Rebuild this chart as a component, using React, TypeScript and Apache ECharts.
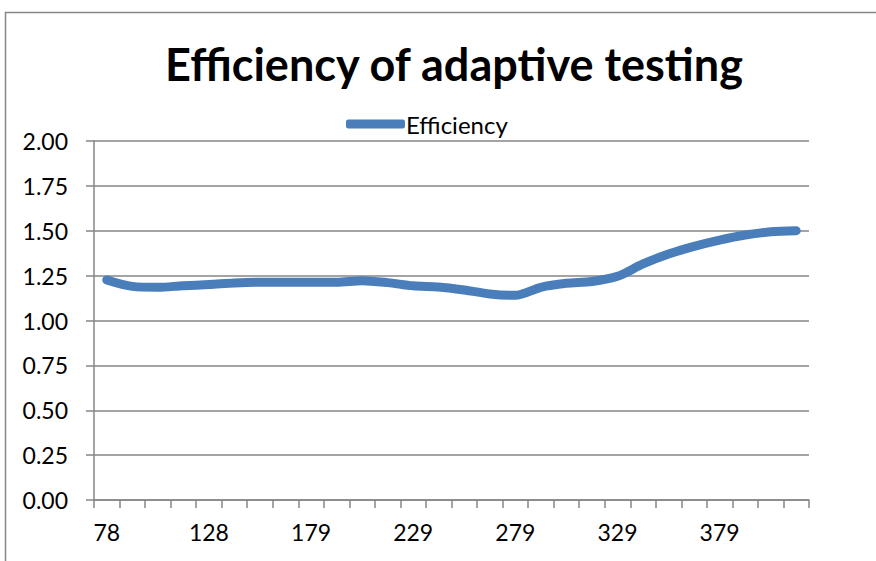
import React, { useEffect, useRef } from "react";
import * as echarts from "echarts";

const categories: string[] = [
  "78", "91", "103", "116", "128", "141", "154", "166", "179", "191",
  "204", "216", "229", "241", "254", "267", "279", "292", "304", "317",
  "329", "342", "354", "367", "379", "392", "404", "417",
];

const efficiency: number[] = [
  1.226, 1.19, 1.185, 1.194, 1.2, 1.209, 1.213, 1.213, 1.213, 1.213,
  1.222, 1.211, 1.193, 1.187, 1.17, 1.148, 1.14, 1.185, 1.207, 1.217,
  1.246, 1.315, 1.37, 1.413, 1.448, 1.476, 1.494, 1.5,
];

const FONT = "Lato, 'Noto Sans', sans-serif";
const GREY = "#868686";

export default function App() {
  const ref = useRef<HTMLDivElement>(null);
  useEffect(() => {
    document.body.style.margin = "0";
    if (!ref.current) return;
    const chart = echarts.init(ref.current, null, { renderer: "svg" });
    chart.setOption({
      animation: false,
      backgroundColor: "#ffffff",
      title: {
        text: "Efficiency of adaptive testing",
        top: 36,
        left: 449,
        textAlign: "center",
        textStyle: { fontFamily: FONT, fontWeight: "bold", fontSize: 45, color: "#000" },
      },
      legend: {
        data: ["Efficiency"],
        left: 341,
        top: 107,
        itemWidth: 59,
        itemHeight: 9,
        itemGap: 10,
        icon: "roundRect",
        textStyle: { fontFamily: FONT, fontSize: 24, color: "#000", padding: [0, 0, 0, -4] },
      },
      graphic: [
        {
          type: "rect",
          shape: { x: 5.5, y: 12.5, width: 1000, height: 700 },
          style: { fill: "none", stroke: GREY, lineWidth: 1.5 },
          silent: true,
        },
      ],
      grid: { left: 94, right: 67, top: 141, bottom: 61 },
      xAxis: {
        type: "category",
        data: categories,
        boundaryGap: true,
        axisLine: { show: true, lineStyle: { color: GREY, width: 1.5 } },
        axisTick: { show: true, interval: 0, length: 8, lineStyle: { color: GREY, width: 1.5 } },
        axisLabel: { interval: 3, margin: 20, fontFamily: FONT, fontSize: 23, color: "#000" },
        splitLine: { show: false },
      },
      yAxis: {
        type: "value",
        min: 0,
        max: 2,
        interval: 0.25,
        axisLine: { show: true, lineStyle: { color: GREY, width: 1.5 } },
        axisTick: { show: true, length: 8, lineStyle: { color: GREY, width: 1.5 } },
        axisLabel: {
          margin: 26,
          fontFamily: FONT,
          fontSize: 23,
          color: "#000",
          formatter: (v: number) => v.toFixed(2),
        },
        splitLine: { show: true, lineStyle: { color: GREY, width: 1.5 } },
      },
      series: [
        {
          name: "Efficiency",
          type: "line",
          data: efficiency,
          smooth: 0.3,
          showSymbol: false,
          symbol: "none",
          lineStyle: { color: "#4a7ebb", width: 9, cap: "round", join: "round" },
          itemStyle: { color: "#4a7ebb" },
        },
      ],
    });
    return () => chart.dispose();
  }, []);
  return <div ref={ref} style={{ width: 876, height: 561 }} />;
}
